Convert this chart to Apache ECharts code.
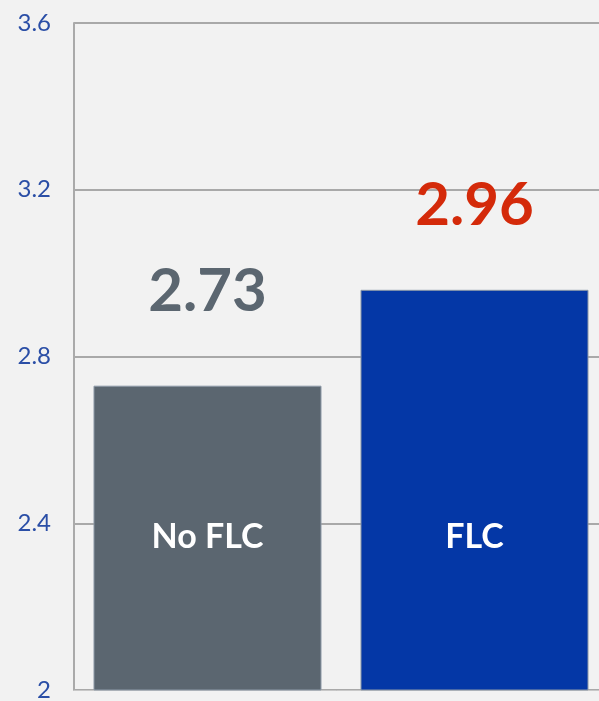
<!DOCTYPE html>
<html>
<head>
<meta charset="utf-8">
<style>
  html, body { margin: 0; padding: 0; background: #f2f2f2; }
  #chart { width: 599px; height: 701px; }
</style>
<script src="https://cdn.jsdelivr.net/npm/echarts@6/dist/echarts.min.js"></script>
</head>
<body>
<div id="chart"></div>
<script>
var categorias = ['No FLC', 'FLC'];
var valores = [2.73, 2.96];
var coloresBarra = ['#5b6670', '#0437a6'];
var coloresValor = ['#5b6670', '#d42a0a'];
var distValor = [64, 54];

var dom = document.getElementById('chart');
var myChart = echarts.init(dom, null, { renderer: 'canvas' });

var option = {
    backgroundColor: '#f2f2f2',
    grid: { left: 74, top: 23, bottom: 11, width: 534, outerBoundsMode: 'none' },
    xAxis: {
        type: 'category',
        data: categorias,
        axisLine: { lineStyle: { color: '#c8c8c8', width: 1 } },
        axisTick: { show: false },
        axisLabel: { show: false }
    },
    yAxis: {
        type: 'value',
        min: 2,
        max: 3.6,
        interval: 0.4,
        axisLine: { show: true, lineStyle: { color: '#aaaaaa', width: 2 } },
        axisTick: { show: false },
        splitLine: { lineStyle: { color: '#a9a9a9', width: 2 } },
        axisLabel: {
            color: '#2a4ea6',
            fontFamily: 'Lato',
            fontSize: 24,
            margin: 23
        }
    },
    series: [
        {
            type: 'bar',
            barCategoryGap: '14.6%',
            data: valores.map(function (v, i) {
                return {
                    value: v,
                    itemStyle: { color: coloresBarra[i], borderColor: '#8e9aa8', borderWidth: 1 },
                    label: { color: coloresValor[i], distance: distValor[i] }
                };
            }),
            label: {
                show: true,
                position: 'top',
                fontFamily: 'Lato',
                fontWeight: 'bold',
                fontSize: 60
            }
        },
        {
            type: 'bar',
            barGap: '-100%',
            barCategoryGap: '14.6%',
            silent: true,
            itemStyle: { color: 'rgba(0,0,0,0)' },
            data: valores,
            label: {
                show: true,
                position: 'insideBottom',
                distance: 136,
                color: '#ffffff',
                fontFamily: 'Lato',
                fontWeight: 'bold',
                fontSize: 34,
                formatter: function (p) { return categorias[p.dataIndex]; }
            }
        }
    ]
};

myChart.setOption(option);
window.addEventListener('resize', myChart.resize);
</script>
</body>
</html>
